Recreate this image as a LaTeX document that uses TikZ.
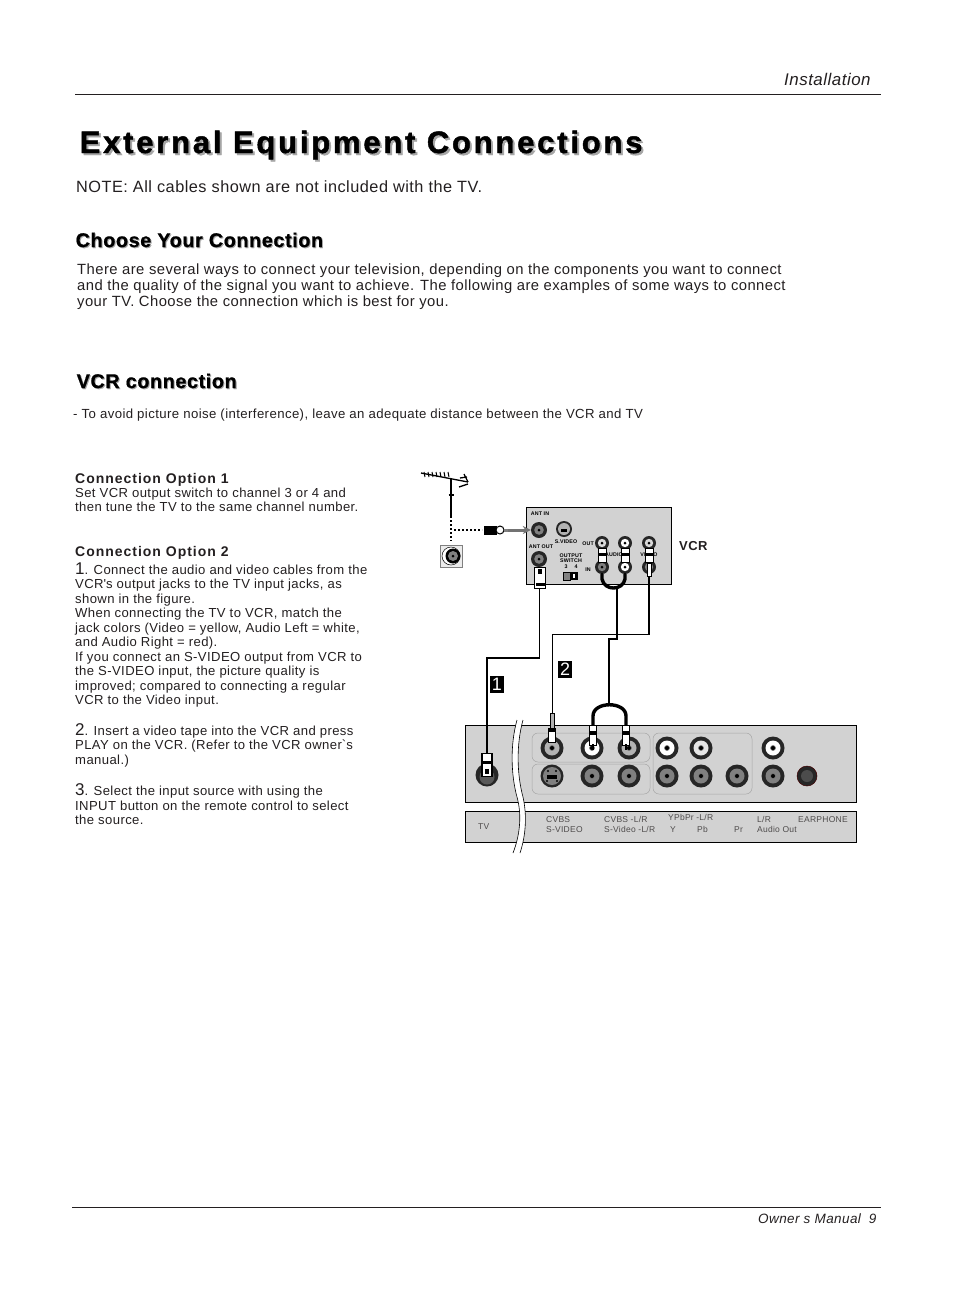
\documentclass[tikz,border=0pt]{standalone}
\usepackage{fontspec}
\usepackage{tikz}
\usetikzlibrary{positioning,arrows.meta,calc}
\setmainfont[LetterSpace=3]{Liberation Sans}
\newfontfamily\titlefont[LetterSpace=9,FakeBold=1.5]{Liberation Sans Bold}
\newfontfamily\headfont[LetterSpace=3,FakeBold=0.8]{Liberation Sans Bold}
\newfontfamily\optfont[LetterSpace=7]{Liberation Sans Bold}
\definecolor{panelgray}{HTML}{D2D2D2}
\definecolor{inkblack}{HTML}{231F20}

\begin{document}
\begin{tikzpicture}[
    x=1pt, y=-1pt,
    txt/.style={anchor=base west, inner sep=0pt, text=inkblack, font=\fontsize{#1}{#1}\selectfont},
    txt/.default={13},
    para/.style={anchor=north west, inner sep=0pt, align=left, text=inkblack, font=\fontsize{13.1}{14.5}\selectfont},
    opthead/.style={anchor=base west, inner sep=0pt, text=inkblack, font=\optfont\fontsize{14}{14}\selectfont},
    lbl/.style={anchor=base west, inner sep=0pt, text=inkblack!80, font=\fontsize{8.5}{8.5}\selectfont},
    vcrlbl/.style={inner sep=0pt, align=center, text=black, font=\fontsize{5.3}{5.8}\selectfont\bfseries},
    title/.style={anchor=base west, inner sep=0pt, text=#1, font=\titlefont\fontsize{31}{31}\selectfont},
    heading/.style={anchor=base west, inner sep=0pt, text=#1, font=\headfont\fontsize{19.8}{19.8}\selectfont},
    rulehead/.style={draw=inkblack, line width=0.8pt},
    panel/.style={draw=black, line width=0.9pt, fill=panelgray},
    group/.style={draw=gray!70, line width=0.5pt, rounded corners=6pt},
    cable/.style={draw=black, line width=1.4pt},
    ycable/.style={draw=black, line width=3.4pt, line cap=round},
    jackouter/.style={circle, fill=#1, inner sep=0pt},
    jackring/.style={circle, fill=#1, inner sep=0pt},
    jackpin/.style={circle, fill=black, draw=gray, line width=0.6pt, minimum size=5pt, inner sep=0pt},
    plugbody/.style={rectangle, draw=black, line width=0.8pt, fill=white, inner sep=0pt},
    plugband/.style={rectangle, fill=black, inner sep=0pt},
    svdot/.style={circle, fill=black, minimum size=2.4pt, inner sep=0pt},
    badge/.style={rectangle, fill=black, text=white, minimum width=14pt, minimum height=17pt, inner sep=0pt, font=\fontsize{18}{18}\selectfont},
]
\useasboundingbox (0,0) rectangle (954,1294);

% ===== PAGE TEXT =====
\node[txt=17, font=\fontsize{16.9}{17}\selectfont\itshape] (section) at (784,85) {Installation};
\coordinate (topl) at (75,94); \coordinate (topr) at (881,94);
\draw[rulehead] (topl) -- (topr);

\node[title=gray!70] (titleshade) at (81.5,155) {External Equipment Connections};
\node[title=black] (titletext) at (79.5,153) {External Equipment Connections};
\node[txt=16.3] (note) at (76,192) {NOTE: All cables shown are not included with the TV.};

\node[heading=gray!70] (chooseshade) at (76.5,248) {Choose Your Connection};
\node[heading=black] (choosetext) at (75.5,247) {Choose Your Connection};
\node[para, font=\fontsize{14.8}{16}\selectfont] (choosepara) at (77,264) {There are several ways to connect your television, depending on the components you want to connect\\and the quality of the signal you want to achieve.  The following are examples of some ways to connect\\your TV.  Choose the connection which is best for you.};

\node[heading=gray!70] (vcrshade) at (77.5,389) {VCR connection};
\node[heading=black] (vcrtext) at (76.5,388) {VCR connection};
\node[txt=13.2] (avoid) at (73,418) {- To avoid picture noise (interference), leave an adequate distance between the VCR and TV};

\node[opthead] (opt1) at (75,483) {Connection Option 1};
\node[para] (opt1para) at (75,487.5) {Set VCR output switch to channel 3 or 4 and\\then tune the TV to the same channel number.};
\node[opthead] (opt2) at (75,556) {Connection Option 2};
\node[para] (step1) at (75,562.5) {{\fontsize{17}{14.5}\selectfont 1}. Connect the audio and video cables from the\\VCR\textquotesingle s output jacks to the TV input jacks, as\\shown in the figure.\\When connecting the TV to VCR, match the\\jack colors (Video = yellow, Audio Left = white,\\and Audio Right = red).\\If you connect an S-VIDEO output from VCR to\\the S-VIDEO input, the picture quality is\\improved; compared to connecting a regular\\VCR to the Video input.};
\node[para] (step2) at (75,723) {{\fontsize{17}{14.5}\selectfont 2}. Insert a video tape into the VCR and press\\PLAY on the VCR. (Refer to the VCR owner\textasciigrave s\\manual.)};
\node[para] (step3) at (75,783.5) {{\fontsize{17}{14.5}\selectfont 3}. Select the input source with using the\\INPUT button on the remote control to select\\the source.};

\coordinate (botl) at (72,1207); \coordinate (botr) at (881,1207);
\draw[rulehead] (botl) -- (botr);
\node[txt=13.5, font=\fontsize{13.5}{13.5}\selectfont\itshape] (footer) at (758,1223) {Owner s Manual\hspace{8pt}9};

% ===== ANTENNA =====
\coordinate (boomL) at (421,473); \coordinate (boomR) at (468,482);
\coordinate (mastT) at (451,479); \coordinate (mastB) at (451,516);
\coordinate (dotB) at (451,541); \coordinate (dotL) at (454,530); \coordinate (coaxL) at (482,530);
\draw[black, line width=1.3pt] (boomL) -- (boomR);
\foreach \xx in {424,428,432,436,440,444,448}
    \draw[black, line width=1pt] (\xx,472) -- (\xx+1,477);
\draw[black, line width=1.3pt] (460,478) -- (467,477) (459,487) -- (468,484) (464,474) -- (468,482);
\draw[black, line width=1.8pt] (mastT) -- (mastB);
\draw[black, line width=2.5pt] (448.5,495) -- (453.5,495);
\draw[black, line width=1.6pt, dash pattern=on 2pt off 2pt] (mastB) -- (dotB);
\draw[black, line width=1.6pt, dash pattern=on 2pt off 2pt] (dotL) -- (coaxL);
\node[rectangle, draw=gray, fill=gray!15, line width=0.8pt, minimum size=22pt, inner sep=0pt] (outlet) at (451,556) {};
\node[circle, fill=white, draw=black, line width=0.5pt, minimum size=18pt, inner sep=0pt] (outletA) at (451,556) {};
\node[circle, fill=black, minimum size=15pt, inner sep=0pt] (outletB) at (453,556) {};
\node[circle, fill=gray, minimum size=10pt, inner sep=0pt] (outletC) at (453,556) {};
\node[circle, fill=black, minimum size=3pt, inner sep=0pt] (outletD) at (453,556) {};
\node[rectangle, fill=black, minimum width=13pt, minimum height=9pt, inner sep=0pt] (coaxbody) at (490.5,530) {};
\node[circle, fill=white, draw=black, line width=1pt, minimum size=8pt, inner sep=0pt] (coaxnut) at (500,530) {};
\node[rectangle, fill=gray, minimum width=4pt, minimum height=3pt, inner sep=0pt] (coaxtip) at (506,530) {};

% ===== VCR PANEL =====
\node[panel, minimum width=145pt, minimum height=77pt, inner sep=0pt] (vcrpanel) at (598.5,545.5) {};
\node[txt=13, font=\fontsize{13}{13}\selectfont\bfseries] (vcrname) at (679,550) {VCR};

\foreach \jackname/\xx/\yy/\ringcol/\jackr in {antin/539/530/gray/8, antout/539/559/gray/8, outl/602/543/gray!30/7, outr/625/543/white/7, outv/649/543/gray!30/7, inl/602/567/gray/7, inr/625/567/white/7, inv/649/567/gray/7} {
    \node[jackouter=black!85, minimum size=2*\jackr*1pt] (\jackname) at (\xx,\yy) {};
    \node[jackring=\ringcol, minimum size=1.2*\jackr*1pt] (\jackname-r) at (\xx,\yy) {};
    \node[circle, fill=black, minimum size=3pt, inner sep=0pt] (\jackname-p) at (\xx,\yy) {};
}
\node[jackouter=black!85, minimum size=16pt] (vcrsvid) at (564,529) {};
\node[jackring=gray!60, minimum size=12pt] (vcrsvid-r) at (564,529) {};
\node[plugband, minimum width=6pt, minimum height=3pt] (vcrsvid-p) at (564,530) {};

\node[vcrlbl] (lantin) at (540,513.5) {ANT IN};
\node[vcrlbl] (lsvid) at (566,541.5) {S.VIDEO};
\node[vcrlbl] (lantout) at (541,546.5) {ANT OUT};
\node[vcrlbl] (lout) at (588,544) {OUT};
\node[vcrlbl] (laudio) at (614,555) {AUDIO};
\node[vcrlbl] (lvideo) at (649,555) {VIDEO};
\node[vcrlbl] (lswitch) at (571,561) {OUTPUT\\SWITCH\\3\hspace{7pt}4};
\node[vcrlbl] (lin) at (588,570) {IN};
\node[rectangle, fill=gray, draw=black, line width=0.3pt, minimum width=7pt, minimum height=8pt, inner sep=0pt] (swleft) at (566.5,576) {};
\node[rectangle, fill=black, minimum width=8pt, minimum height=8pt, inner sep=0pt, right=0pt of swleft] (swright) {};
\node[rectangle, fill=white, minimum width=2pt, minimum height=4pt, inner sep=0pt] (swmark) at (swright) {};

% links on the VCR rear
\foreach \linkname/\xx in {linkl/602, linkr/625, linkv/649} {
    \node[plugbody, minimum width=8pt, minimum height=14pt] (\linkname) at (\xx,555) {};
    \node[plugband, minimum width=9pt, minimum height=3pt] (\linkname-b) at (\xx,554) {};
}
\draw[ycable] (inl) -- (602,579) .. controls (604,591) and (623,591) .. (625,579) -- (inr);
\node[plugbody, minimum width=11pt, minimum height=21pt, line width=1.5pt] (antplug) at (540,578) {};
\node[plugband, minimum width=9pt, minimum height=3pt] (antplug-b) at (540,584) {};
\node[plugband, minimum width=4pt, minimum height=5pt] (antplug-t) at (540,571) {};
\node[plugbody, minimum width=4pt, minimum height=13pt] (vidplug) at (649,570) {};

% ===== TV PANEL =====
\node[panel, minimum width=391.5pt, minimum height=77.5pt, inner sep=0pt] (tvpanel) at (661,764) {};
\node[panel, minimum width=391.5pt, minimum height=31pt, inner sep=0pt] (tvlabels) at (661,827) {};
\draw[group] (532,733) rectangle (650,762);
\draw[group] (532,764) rectangle (650,794);
\draw[group] (653,733) rectangle (752,794);

\foreach \jackname/\xx/\yy/\ringcol in {cvbs/552/748/gray!60, audl/592/748/white, audr/629/748/gray!60, ypl/667/748/white, ypr/701/748/gray!20, aol/773/748/white, sl/592/776/gray, sr/629/776/gray, yy/667/776/gray, pb/701/776/gray, pr/737/776/gray, aor/773/776/gray} {
    \node[jackouter=black!85, minimum size=23pt] (\jackname) at (\xx,\yy) {};
    \node[jackring=\ringcol, minimum size=15pt] (\jackname-r) at (\xx,\yy) {};
    \node[jackpin] (\jackname-p) at (\xx,\yy) {};
}
\node[jackouter=black!85, minimum size=23pt] (svid) at (552,776) {};
\node[jackring=gray, minimum size=18pt] (svid-r) at (552,776) {};
\node[plugband, minimum width=10pt, minimum height=4pt] (svid-p) at (552,777) {};
\foreach \dotname/\xx/\yy in {svdA/548/771, svdB/556/771, svdC/547/781, svdD/557/781}
    \node[svdot] (\dotname) at (\xx,\yy) {};
\node[jackouter=black!85, minimum size=20pt, draw=red!25!black, line width=0.5pt] (earphone) at (807,776) {};
\node[jackring=black!70, minimum size=12pt] (earphone-r) at (807,776) {};
\node[jackouter=black!85, minimum size=23pt] (tvant) at (487,775) {};
\node[jackring=gray!70!black, minimum size=15pt] (tvant-r) at (487,777) {};

% ===== BREAK IN THE PANEL =====
\fill[white] (517,720) .. controls (510,745) and (511,775) .. (517,797) .. controls (522,815) and (520,835) .. (513,853)
    -- (520,853) .. controls (526,835) and (527,815) .. (523,797) .. controls (517,775) and (516,745) .. (523,720) -- cycle;
\draw[black, line width=0.6pt] (517,720) .. controls (510,745) and (511,775) .. (517,797) .. controls (522,815) and (520,835) .. (513,853);
\draw[black, line width=0.6pt] (523,720) .. controls (516,745) and (517,775) .. (523,797) .. controls (527,815) and (526,835) .. (520,853);

% ===== TV LABELS =====
\node[lbl] (ltv) at (478,829) {TV};
\node[lbl] (lcvbs) at (546,822) {CVBS};
\node[lbl] (lsvideo) at (546,832) {S-VIDEO};
\node[lbl] (lcvbslr) at (604,822) {CVBS -L/R};
\node[lbl] (lsvidlr) at (604,832) {S-Video -L/R};
\node[lbl] (lypbpr) at (668,820) {YPbPr -L/R};
\node[lbl] (ly) at (670,832) {Y};
\node[lbl] (lpb) at (697,832) {Pb};
\node[lbl] (lpr) at (734,832) {Pr};
\node[lbl] (llr) at (757,822) {L/R};
\node[lbl] (laudout) at (757,832) {Audio Out};
\node[lbl] (learph) at (798,822) {EARPHONE};

% ===== CABLES =====
\coordinate (antbend1) at (539.5,658); \coordinate (antbend2) at (487,658);
\coordinate (vidbend1) at (649,634.5); \coordinate (vidbend2) at (552.5,634.5);
\coordinate (audtop) at (617,589); \coordinate (audbend1) at (617,639); \coordinate (audbend2) at (609,639); \coordinate (audbot) at (609,705);
\draw[cable] (antbend1 |- antplug.south) -- (antbend1) -- (antbend2) -- (antbend2 |- tvant);
\draw[cable] (vidplug.south) -- (vidbend1) -- (vidbend2) -- (552.5,716);
\draw[cable] (audtop) -- (audbend1) -- (audbend2) -- (audbot);

% ===== TV PLUGS =====
\node[plugbody, fill=gray!60, minimum width=4pt, minimum height=15pt] (cvbstip) at (552,721) {};
\node[plugbody, minimum width=7pt, minimum height=14pt] (cvbsplug) at (552,735) {};
\node[plugband, minimum width=7pt, minimum height=3pt] (cvbsplug-b) at (552,730) {};
\draw[ycable] (593,725) -- (593,716) .. controls (593,701) and (626,701) .. (626,716) -- (626,725);
\foreach \plugname/\xx in {audplugl/593, audplugr/626} {
    \node[plugbody, minimum width=7pt, minimum height=20pt] (\plugname) at (\xx,735) {};
    \node[plugband, minimum width=7pt, minimum height=4pt] (\plugname-b) at (\xx,733) {};
    \node[plugband, minimum width=2pt, minimum height=6pt] (\plugname-t) at (\xx,747) {};
}
\node[plugbody, minimum width=10pt, minimum height=23pt, line width=1.3pt] (antplugtv) at (487,765) {};
\node[plugband, minimum width=10pt, minimum height=3pt] (antplugtv-b) at (487,762) {};
\node[plugband, minimum width=4pt, minimum height=5pt] (antplugtv-t) at (487,771) {};

\node[badge] (badgeA) at (497,684) {1};
\node[badge] (badgeB) at (565,669) {2};

% ===== COAX ARROW =====
\draw[-{Stealth[length=8pt,width=8pt]}, black!55, line width=3pt] (coaxtip.east) -- (antin.west);

\end{tikzpicture}
\end{document}
